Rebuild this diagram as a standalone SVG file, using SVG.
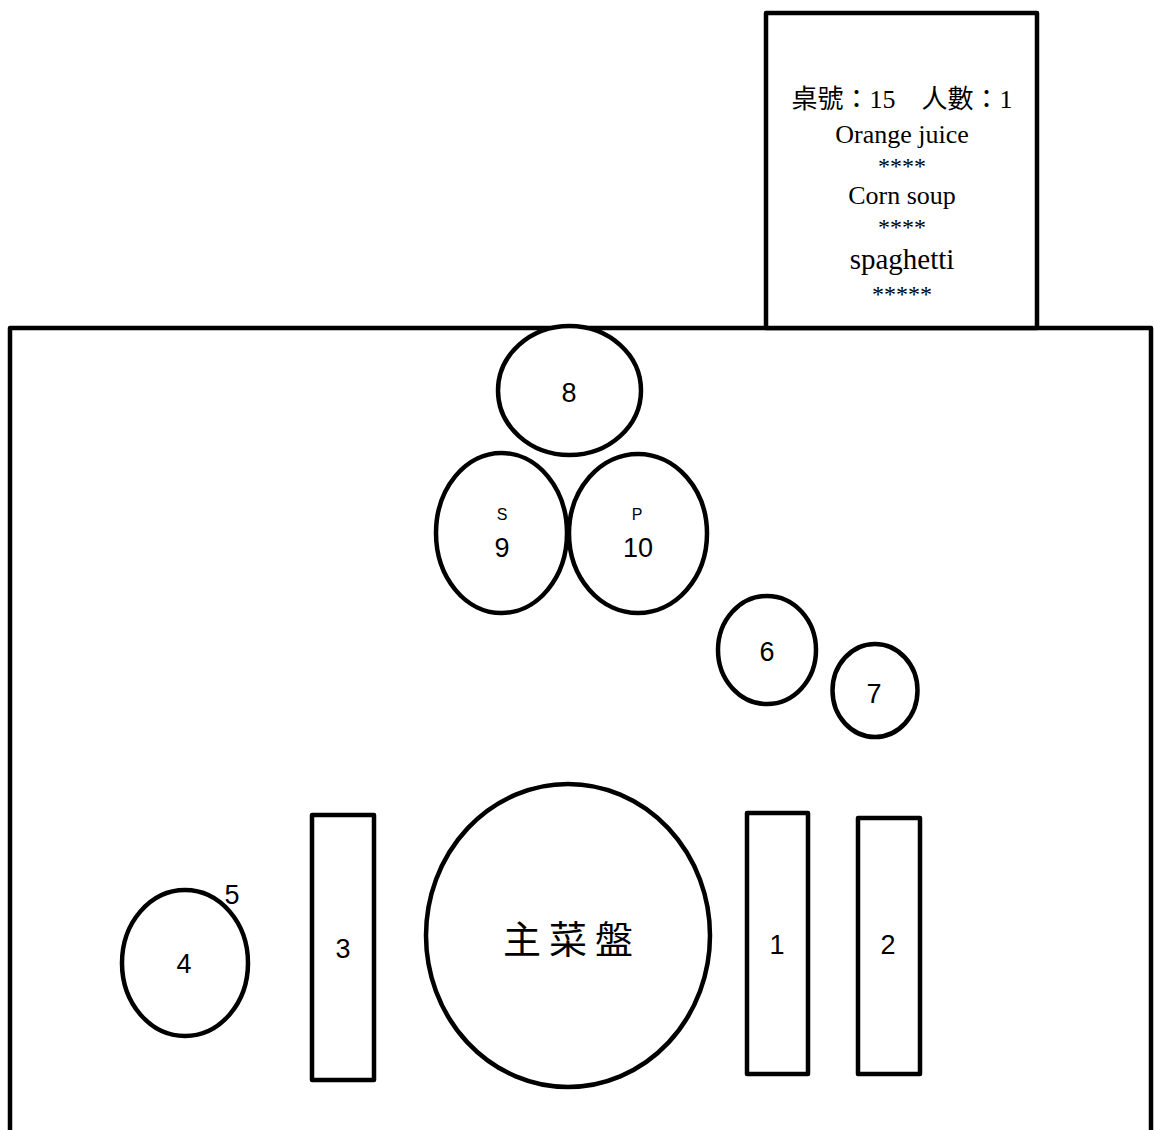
<svg xmlns="http://www.w3.org/2000/svg" width="1154" height="1130" viewBox="0 0 1154 1130">
<style>
.s{fill:#fff;stroke:#000;stroke-width:4.5;stroke-linejoin:round}
.n{font-family:"Liberation Sans","Noto Sans CJK TC",sans-serif;font-size:27px;fill:#000;text-anchor:middle}
.sm{font-family:"Liberation Sans",sans-serif;font-size:16px;fill:#000;text-anchor:middle}
.c{font-family:"Liberation Serif","Noto Sans CJK TC",serif;font-size:26px;fill:#000;text-anchor:middle}
.st{font-size:24px}
.sp{font-size:29px}
.cj{font-family:"Noto Sans CJK TC","Noto Sans CJK SC",sans-serif;font-size:38px;fill:#000;text-anchor:middle;letter-spacing:8px}
</style>
<rect width="1154" height="1130" fill="#fff"/>
<g id="table"><rect class="s" x="10" y="328" width="1141" height="900"/></g>
<g id="card">
<rect class="s" x="766" y="13" width="271" height="315"/>
<text class="c" x="902" y="108">桌號：15　人數：1</text>
<text class="c" x="902" y="143">Orange juice</text>
<text class="c st" x="902" y="174">****</text>
<text class="c" x="902" y="204">Corn soup</text>
<text class="c st" x="902" y="235">****</text>
<text class="c sp" x="902" y="269">spaghetti</text>
<text class="c st" x="902" y="302">*****</text>
</g>
<g id="n8"><ellipse class="s" cx="569.5" cy="390.5" rx="71.5" ry="64.5"/><text class="n" x="569" y="402">8</text></g>
<g id="n9"><ellipse class="s" cx="501.5" cy="533" rx="65.5" ry="80"/><text class="sm" x="502" y="520">S</text><text class="n" x="502" y="557">9</text></g>
<g id="n10"><ellipse class="s" cx="638" cy="533.5" rx="69" ry="79.5"/><text class="sm" x="637" y="520">P</text><text class="n" x="638" y="557">10</text></g>
<g id="n6"><ellipse class="s" cx="767" cy="650" rx="49" ry="54"/><text class="n" x="767" y="661">6</text></g>
<g id="n7"><ellipse class="s" cx="875" cy="690.5" rx="42.5" ry="46.5"/><text class="n" x="874" y="703">7</text></g>
<g id="plate"><ellipse class="s" cx="568" cy="935.5" rx="142" ry="151.5"/><text class="cj" x="572" y="953">主菜盤</text></g>
<g id="n1"><rect class="s" x="747" y="813" width="61" height="261"/><text class="n" x="777" y="954">1</text></g>
<g id="n2"><rect class="s" x="858" y="818" width="62" height="256"/><text class="n" x="888" y="954">2</text></g>
<g id="n3"><rect class="s" x="312" y="815" width="62" height="265"/><text class="n" x="343" y="958">3</text></g>
<g id="n4"><ellipse class="s" cx="185" cy="963" rx="63" ry="73"/><text class="n" x="184" y="973">4</text></g>
<g id="n5"><text class="n" x="232" y="904">5</text></g>
<g id="connectors"></g>
</svg>
